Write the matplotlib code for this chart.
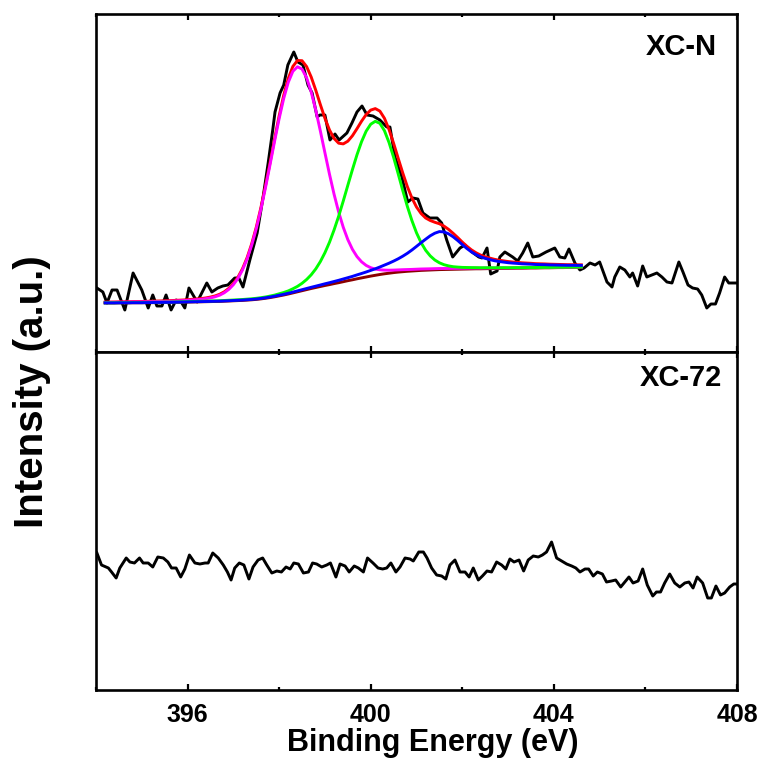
import numpy as np
import matplotlib
matplotlib.use("Agg")
import matplotlib.pyplot as plt
from matplotlib.ticker import MultipleLocator

plt.rcParams['font.family'] = ['Liberation Sans', 'DejaVu Sans']
plt.rcParams['font.weight'] = 'bold'

# ---------------- XC-N raw spectrum (binding energy eV, intensity a.u.) -------------
xcn_e = [394.02, 394.15, 394.24, 394.35, 394.46, 394.63, 394.81, 395.00, 395.14, 395.24,
         395.33, 395.44, 395.53, 395.64, 395.75, 395.86, 395.94, 396.03, 396.21, 396.42,
         396.53, 396.66, 396.77, 396.88, 397.03, 397.12, 397.21, 397.36, 397.52, 397.65,
         397.76, 397.86, 397.91, 398.02, 398.10, 398.19, 398.32, 398.41, 398.52, 398.63,
         398.72, 398.83, 398.89, 399.00, 399.11, 399.22, 399.31, 399.48, 399.59, 399.70,
         399.81, 399.92, 400.05, 400.20, 400.35, 400.42, 400.53, 400.68, 400.81, 400.92,
         401.03, 401.14, 401.29, 401.45, 401.55, 401.66, 401.79, 401.95, 402.06, 402.21,
         402.36, 402.43, 402.54, 402.62, 402.76, 402.82, 402.93, 403.10, 403.21, 403.32,
         403.43, 403.54, 403.67, 403.83, 404.02, 404.13, 404.24, 404.33, 404.46, 404.57,
         404.66, 404.79, 404.90, 405.00, 405.16, 405.27, 405.33, 405.44, 405.55, 405.66,
         405.72, 405.83, 405.94, 406.03, 406.14, 406.25, 406.36, 406.47, 406.58, 406.73,
         406.82, 406.93, 407.03, 407.14, 407.23, 407.34, 407.43, 407.53, 407.62, 407.73,
         407.82, 407.95, 408.00]
xcn_i = [64, 60, 49, 62, 62, 42, 79, 62, 44, 57,
         46, 46, 57, 42, 52, 50, 44, 64, 50, 69,
         60, 64, 66, 67, 74, 74, 65, 92, 119, 155,
         189, 222, 240, 259, 267, 287, 300, 290, 287, 267,
         259, 235, 237, 237, 212, 218, 212, 219, 229, 240,
         246, 237, 236, 232, 225, 225, 195, 175, 150, 154,
         153, 139, 134, 134, 129, 112, 95, 104, 107, 100,
         95, 94, 104, 78, 81, 95, 100, 95, 91, 99,
         109, 95, 96, 100, 104, 95, 94, 103, 89, 82,
         84, 89, 87, 90, 70, 65, 75, 85, 82, 75,
         79, 66, 86, 75, 77, 79, 75, 70, 69, 90,
         80, 67, 64, 63, 57, 44, 48, 48, 59, 75,
         69, 69, 69]

# ---------------- XC-N peak fit (common energy grid, 0.1 eV steps) ----------------
fit_e = np.round(np.arange(394.2, 404.65, 0.1), 1)

background = [49.0, 49.0, 49.0, 49.1, 49.1, 49.1, 49.2, 49.2, 49.2, 49.3,
              49.3, 49.4, 49.4, 49.5, 49.5, 49.6, 49.7, 49.8, 49.9, 50.0,
              50.1, 50.2, 50.3, 50.4, 50.5, 50.6, 50.8, 51.0,
              51.2, 51.4, 51.6, 51.9, 52.2, 52.6, 53.1, 53.7, 54.4, 55.2,
              56.1, 57.0, 58.0, 59.1, 60.2, 61.3, 62.4, 63.5, 64.5, 65.5,
              66.5, 67.4, 68.4, 69.3, 70.3, 71.3, 72.2, 73.2, 74.1, 75.0,
              75.9, 76.7, 77.5, 78.2, 78.8, 79.4, 79.9, 80.3, 80.7, 81.0,
              81.3, 81.6, 81.8, 82.0, 82.2, 82.4, 82.5, 82.6, 82.7, 82.8,
              82.9, 83.0, 83.1, 83.2, 83.2, 83.3, 83.4, 83.4, 83.5, 83.6,
              83.6, 83.7, 83.8, 83.8, 83.9, 84.0, 84.0, 84.1, 84.2, 84.2,
              84.3, 84.4, 84.4, 84.5, 84.6, 84.6, 84.7]

peak_pyridinic = [0.59, 0.62, 0.65, 0.68, 0.72, 0.76, 0.8, 0.84, 0.89, 0.94,
                  1.0, 1.06, 1.13, 1.2, 1.3, 1.4, 1.5, 1.6, 1.75, 2.0,
                  2.2, 2.5, 3.0, 3.7, 4.7, 6.2, 8.4, 11.6, 16.1, 22.2,
                  30.5, 41.1, 54.5, 70.6, 89.3, 110.3, 132.7, 155.5, 177.3, 196.6,
                  211.8, 221.6, 225.0,
                  221.6, 211.8, 196.6, 177.3, 155.5, 132.7, 110.3, 89.3, 70.6, 54.5,
                  41.1, 30.5, 22.2, 16.1, 11.6, 8.4, 6.2, 4.7, 3.7, 3.0,
                  2.5, 2.2, 2.0, 1.75, 1.6, 1.5, 1.4, 1.3, 1.2, 1.13,
                  1.06, 1.0, 0.94, 0.89, 0.84, 0.8, 0.76, 0.72, 0.68, 0.65,
                  0.62, 0.59, 0.56, 0.54, 0.52, 0.5, 0.47, 0.45, 0.44, 0.42,
                  0.4, 0.39, 0.37, 0.36, 0.35, 0.34, 0.32, 0.31, 0.3, 0.29,
                  0.29, 0.28]

peak_pyrrolic = [0.22, 0.23, 0.24, 0.25, 0.26, 0.27, 0.28, 0.29, 0.3, 0.31,
                 0.32, 0.34, 0.35, 0.37, 0.39, 0.41, 0.43, 0.45, 0.47, 0.49,
                 0.51, 0.54, 0.57, 0.6, 0.63, 0.67, 0.71, 0.75, 0.8, 0.85,
                 0.9, 0.97, 1.03, 1.1, 1.2, 1.3, 1.5, 1.7, 2.1, 2.5,
                 3.1, 4.1, 5.4, 7.4, 10.1, 13.7, 18.6, 24.9, 32.8, 42.4,
                 53.7, 66.5, 80.6, 95.4, 110.1, 124.0, 136.2, 145.8, 151.9,
                 154.0,
                 151.2, 143.1, 130.7, 115.3, 98.3, 81.2, 64.9, 50.4, 37.9, 27.8,
                 19.9, 14.1, 9.8, 6.8, 4.8, 3.5, 2.6, 2.1, 1.7, 1.5,
                 1.3, 1.15, 1.06, 0.98, 0.91, 0.84, 0.78, 0.73, 0.68, 0.64,
                 0.6, 0.57, 0.53, 0.5, 0.48, 0.45, 0.43, 0.4, 0.39, 0.37,
                 0.35, 0.33, 0.32, 0.3, 0.29]

peak_graphitic = [0.1, 0.1, 0.1, 0.1, 0.1, 0.1, 0.1, 0.1, 0.1, 0.1,
                  0.15, 0.15, 0.15, 0.15, 0.15, 0.15, 0.15, 0.15,
                  0.2, 0.2, 0.2, 0.2, 0.2, 0.25, 0.25, 0.25, 0.25, 0.25,
                  0.3, 0.3, 0.35, 0.35, 0.4, 0.4, 0.45, 0.5, 0.55, 0.6,
                  0.65, 0.7, 0.75, 0.8, 0.9, 1.0, 1.1, 1.2, 1.35, 1.5,
                  1.7, 1.9, 2.1, 2.4, 2.7, 3.0, 3.4, 3.9, 4.4, 5.0,
                  5.7, 6.5, 7.5, 8.7, 10.0, 11.5, 13.3, 15.5, 18.0, 21.0,
                  24.3, 27.7, 31.0, 34.2, 36.6, 38.0, 37.6, 35.6, 32.5, 28.7,
                  24.5, 20.5, 17.0, 14.2, 12.0, 10.3, 9.0, 7.9, 7.0, 6.3,
                  5.7, 5.2, 4.8, 4.4, 4.1, 3.8, 3.5, 3.3, 3.1, 2.9,
                  2.7, 2.5, 2.4, 2.2, 2.1, 2.0, 1.9]

# ---------------- XC-72 raw spectrum ----------------
xc72_e = [394.02, 394.12, 394.27, 394.34, 394.44, 394.52, 394.66, 394.74, 394.84, 394.95,
          395.03, 395.14, 395.24, 395.35, 395.47, 395.57, 395.65, 395.75, 395.85, 395.94,
          396.04, 396.16, 396.27, 396.38, 396.45, 396.55, 396.67, 396.78, 396.87, 396.95,
          397.03, 397.13, 397.23, 397.34, 397.43, 397.54, 397.64, 397.73, 397.84, 397.95,
          398.05, 398.15, 398.24, 398.32, 398.42, 398.53, 398.64, 398.73, 398.82, 398.93,
          399.04, 399.12, 399.24, 399.33, 399.44, 399.53, 399.64, 399.73, 399.84, 399.93,
          400.05, 400.16, 400.26, 400.35, 400.44, 400.55, 400.64, 400.75, 400.86, 400.93,
          401.05, 401.15, 401.23, 401.33, 401.44, 401.55, 401.64, 401.73, 401.84, 401.95,
          402.06, 402.15, 402.24, 402.35, 402.44, 402.54, 402.64, 402.75, 402.86, 402.95,
          403.04, 403.13, 403.24, 403.34, 403.44, 403.55, 403.66, 403.75, 403.84, 403.95,
          404.06, 404.17, 404.28, 404.39, 404.48, 404.57, 404.68, 404.76, 404.86, 404.95,
          405.06, 405.15, 405.26, 405.35, 405.46, 405.55, 405.64, 405.73, 405.84, 405.94,
          406.04, 406.16, 406.24, 406.33, 406.42, 406.53, 406.64, 406.75, 406.86, 406.95,
          407.04, 407.13, 407.25, 407.36, 407.44, 407.54, 407.64, 407.73, 407.84, 407.93,
          408.00]
xc72_i = [137, 125, 122, 118, 112, 122, 132, 128, 127, 132,
          127, 127, 123, 133, 132, 128, 122, 122, 113, 121,
          135, 127, 126, 127, 127, 137, 132, 125, 118, 110,
          122, 127, 125, 111, 123, 130, 132, 125, 117, 119,
          118, 123, 121, 127, 126, 117, 118, 127, 126, 123,
          125, 127, 113, 126, 124, 118, 124, 122, 118, 132,
          127, 122, 121, 122, 127, 118, 123, 132, 131, 129,
          138, 138, 132, 122, 115, 114, 111, 125, 130, 118,
          118, 113, 122, 110, 114, 119, 118, 128, 125, 121,
          131, 128, 130, 119, 130, 134, 133, 135, 138, 148,
          132, 129, 126, 124, 122, 118, 121, 121, 114, 118,
          116, 108, 109, 110, 103, 108, 113, 107, 109, 121,
          105, 94, 98, 98, 107, 116, 107, 103, 107, 108,
          102, 113, 107, 92, 92, 104, 95, 97, 103, 106,
          106]

panel_labels = ["XC-N", "XC-72"]
x_ticks = [396, 400, 404, 408]

# ---------------- figure ----------------
fig = plt.figure(figsize=(7.62, 7.60), dpi=100)
L, W = 96 / 762, 641 / 762
ax_top = fig.add_axes([L, 1 - 352 / 760, W, 338 / 760])
ax_bot = fig.add_axes([L, 1 - 690 / 760, W, 338 / 760], sharex=ax_top)

bg = np.array(background)
p1 = np.array(peak_pyridinic)
p2 = np.array(peak_pyrrolic)
p3 = np.array(peak_graphitic)
envelope = bg + p1 + p2 + p3

lw = 2.1
ax_top.plot(xcn_e, xcn_i, color='black', lw=lw, zorder=2)
ax_top.plot(fit_e, envelope, color='#ff0000', lw=lw, zorder=3)
ax_top.plot(fit_e, bg, color='#8b0000', lw=lw, zorder=4)
ax_top.plot(fit_e, bg + p1, color='#ff00ff', lw=lw, zorder=5)
ax_top.plot(fit_e, bg + p2, color='#00ff00', lw=lw, zorder=6)
ax_top.plot(fit_e, bg + p3, color='#0000ff', lw=lw, zorder=7)

ax_bot.plot(xc72_e, xc72_i, color='black', lw=lw, zorder=2)

tick_font = ['Liberation Sans Narrow', 'Liberation Sans', 'DejaVu Sans']
label_pos = {"XC-N": (0.969, 0.902), "XC-72": (0.977, 0.923)}
for ax, lab in zip([ax_top, ax_bot], panel_labels):
    ax.set_xlim(394, 408)
    ax.set_ylim(0, 338)
    ax.set_yticks([])
    for s in ax.spines.values():
        s.set_linewidth(1.9)
    ax.set_xticks(x_ticks)
    ax.xaxis.set_minor_locator(MultipleLocator(2))
    ax.tick_params(axis='x', which='major', direction='in', length=4.5, width=1.6,
                   top=True, bottom=True, labelsize=18, pad=9)
    ax.tick_params(axis='x', which='minor', direction='in', length=2.5, width=1.6,
                   top=True, bottom=True)
    lx, ly = label_pos[lab]
    ax.text(lx, ly, lab, transform=ax.transAxes,
            ha='right', va='center', fontsize=21, fontweight='bold')

ax_top.tick_params(axis='x', labelbottom=False)
for t in ax_bot.get_xticklabels():
    t.set_fontweight('bold')
    t.set_family(tick_font)

ax_bot.set_xlabel("Binding Energy (eV)", fontsize=22, fontweight='bold')
ax_bot.xaxis.set_label_coords((433 - 96) / 641, -0.157)
ax_bot.xaxis.label.set_va('center')
fig.text(32 / 762, 1 - 392 / 760, "Intensity (a.u.)", rotation=90, ha='center',
         va='center', fontsize=29, fontweight='bold')

fig.savefig("out.png", dpi=100)
